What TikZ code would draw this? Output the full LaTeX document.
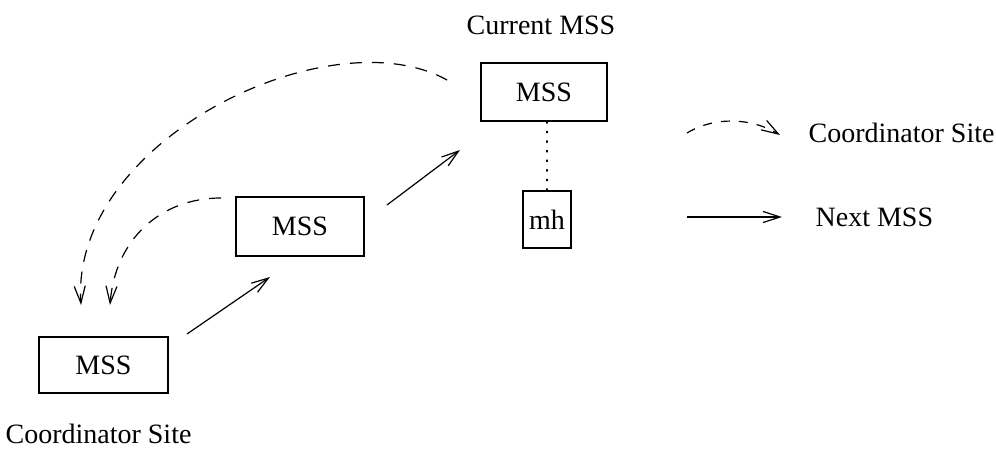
\documentclass[tikz,border=0pt]{standalone}
\usepackage{fontspec}
\setmainfont{Liberation Serif}
\usetikzlibrary{arrows.meta,calc}
\begin{document}
\begin{tikzpicture}[x=1pt,y=-1pt,
  font=\fontsize{28}{32}\selectfont,
  every path/.style={line width=1.2pt},
  mss/.style={draw,rectangle,inner sep=0pt,line width=1.2pt},
  lbl/.style={inner sep=0pt},
  tip/.style={-{Straight Barb[length=17pt,width=11pt,line width=1.2pt]}},
  coord/.style={tip,dash pattern=on 12pt off 10pt},
  hop/.style={tip}]
  \useasboundingbox (0,0) rectangle (996,454);

  % stations
  \node[mss,minimum width=126pt,minimum height=58pt] (cur) at (544,92) {MSS};
  \node[mss,minimum width=128pt,minimum height=59pt] (mid) at (300,226.5) {MSS};
  \node[mss,minimum width=129pt,minimum height=56pt] (low) at (103.5,365) {MSS};
  \node[mss,minimum width=48pt,minimum height=57pt] (mh) at (547,219.5) {mh};

  % labels
  \node[lbl] (curlbl) at (541,25) {Current MSS};
  \node[lbl,anchor=west] (sitelbl) at (5,434) {Coordinator Site};

  % mobile host attached to current station
  \draw[dash pattern=on 1.6pt off 8pt,line cap=round] (cur.south -| mh.north) -- (mh.north);

  % hops to the next station
  \coordinate (h1s) at (187,334);
  \coordinate (h1e) at (270,277);
  \coordinate (h2s) at (387,205);
  \coordinate (h2e) at (460,150);
  \draw[hop] (h1s) -- (h1e);
  \draw[hop] (h2s) -- (h2e);

  % pointers back to the coordinator site
  \coordinate (c1s) at (447,80);
  \coordinate (c1e) at (81,305);
  \coordinate (c2s) at (221,198);
  \coordinate (c2e) at (110,305);
  \draw[coord] (c1s) .. controls (330,15) and (70,140) .. (c1e);
  \draw[coord] (c2s) .. controls (160,198) and (115,240) .. (c2e);

  % legend
  \coordinate (l1s) at (687,133);
  \coordinate (l1e) at (780,135);
  \coordinate (l2s) at (687,217);
  \coordinate (l2e) at (782,217);
  \draw[coord,dash pattern=on 9pt off 9pt] (l1s) .. controls (715,116) and (752,118) .. (l1e);
  \draw[hop] (l2s) -- (l2e);
  \node[lbl,anchor=west] (legc) at (808,133) {Coordinator Site};
  \node[lbl,anchor=west] (legn) at (815,217) {Next MSS};
\end{tikzpicture}
\end{document}
